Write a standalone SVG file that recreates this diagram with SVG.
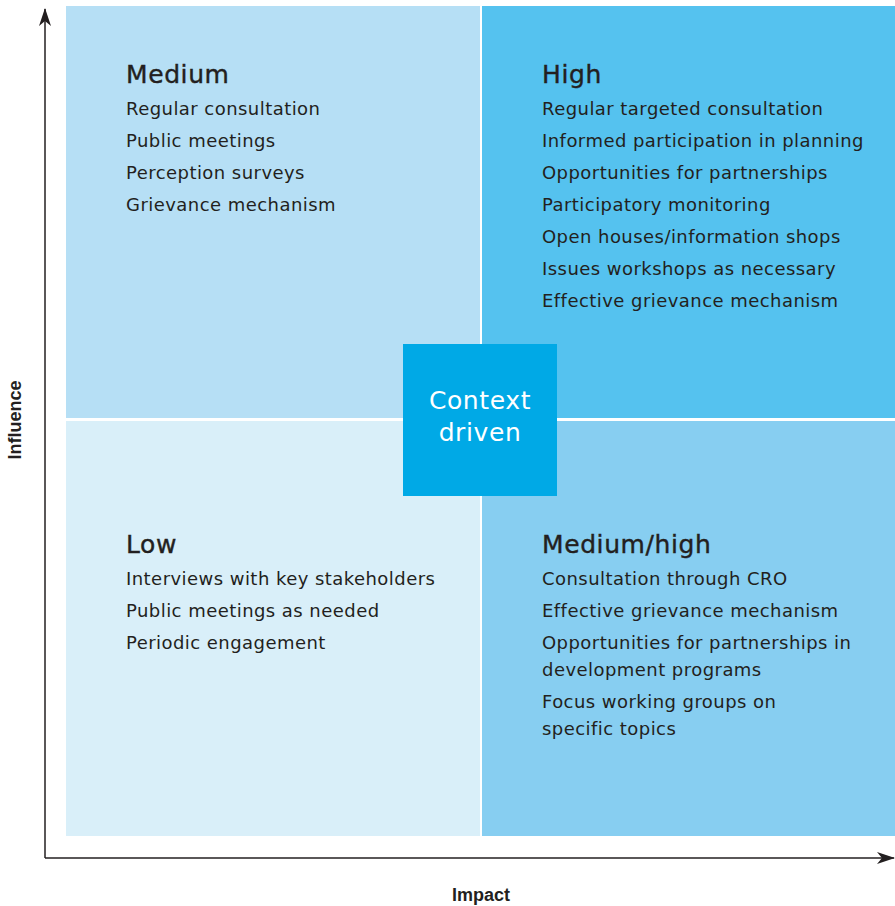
<svg xmlns="http://www.w3.org/2000/svg" width="895" height="906" viewBox="0 0 895 906">
<defs>
<style>
text{font-family:"DejaVu Sans","Liberation Sans",sans-serif;fill:#231f20}
.h{font-size:25px;letter-spacing:0.6px;stroke:#231f20;stroke-width:0.4px}
.i{font-size:18px;letter-spacing:0.45px}
.ax{font-family:"Liberation Sans",sans-serif;font-weight:bold;font-size:18px}
.c{fill:#fff;font-size:25px;letter-spacing:0.6px;text-anchor:middle}
</style>
<marker id="ar" viewBox="0 0 18 12" refX="17" refY="6" markerWidth="18" markerHeight="12" markerUnits="userSpaceOnUse" orient="auto">
<path d="M0,0 L18,6 L0,12 L5,6 Z" fill="#231f20"/>
</marker>
</defs>
<rect width="895" height="906" fill="#fff"/>
<g id="medium">
<rect x="66" y="6" width="414" height="412" fill="#b6dff5"/>
<text class="h" x="126" y="83">Medium</text>
<text class="i" x="126" y="115">Regular consultation</text>
<text class="i" x="126" y="147">Public meetings</text>
<text class="i" x="126" y="179">Perception surveys</text>
<text class="i" x="126" y="211">Grievance mechanism</text>
</g>
<g id="high">
<rect x="482" y="6" width="413" height="412" fill="#55c2ef"/>
<text class="h" x="542" y="83">High</text>
<text class="i" x="542" y="115">Regular targeted consultation</text>
<text class="i" x="542" y="147">Informed participation in planning</text>
<text class="i" x="542" y="179">Opportunities for partnerships</text>
<text class="i" x="542" y="211">Participatory monitoring</text>
<text class="i" x="542" y="243">Open houses/information shops</text>
<text class="i" x="542" y="275">Issues workshops as necessary</text>
<text class="i" x="542" y="307">Effective grievance mechanism</text>
</g>
<g id="low">
<rect x="66" y="421" width="414" height="415" fill="#d9eff9"/>
<text class="h" x="126" y="553">Low</text>
<text class="i" x="126" y="585">Interviews with key stakeholders</text>
<text class="i" x="126" y="617">Public meetings as needed</text>
<text class="i" x="126" y="649">Periodic engagement</text>
</g>
<g id="mediumhigh">
<rect x="482" y="421" width="413" height="415" fill="#87cef1"/>
<text class="h" x="542" y="553">Medium/high</text>
<text class="i" x="542" y="585">Consultation through CRO</text>
<text class="i" x="542" y="617">Effective grievance mechanism</text>
<text class="i" x="542" y="649">Opportunities for partnerships in</text>
<text class="i" x="542" y="676">development programs</text>
<text class="i" x="542" y="708">Focus working groups on</text>
<text class="i" x="542" y="735">specific topics</text>
</g>
<g id="context">
<rect x="403" y="344" width="154" height="152" fill="#00a9e6"/>
<text class="c" x="480" y="409">Context</text>
<text class="c" x="480" y="441">driven</text>
</g>
<g id="connectors" stroke="#231f20" stroke-width="1.5" fill="none">
<line x1="45" y1="858" x2="45" y2="9" marker-end="url(#ar)"/>
<line x1="45" y1="858" x2="894" y2="858" marker-end="url(#ar)"/>
</g>
<text class="ax" x="481" y="901" text-anchor="middle">Impact</text>
<text class="ax" transform="translate(21,420) rotate(-90)" text-anchor="middle">Influence</text>
</svg>
